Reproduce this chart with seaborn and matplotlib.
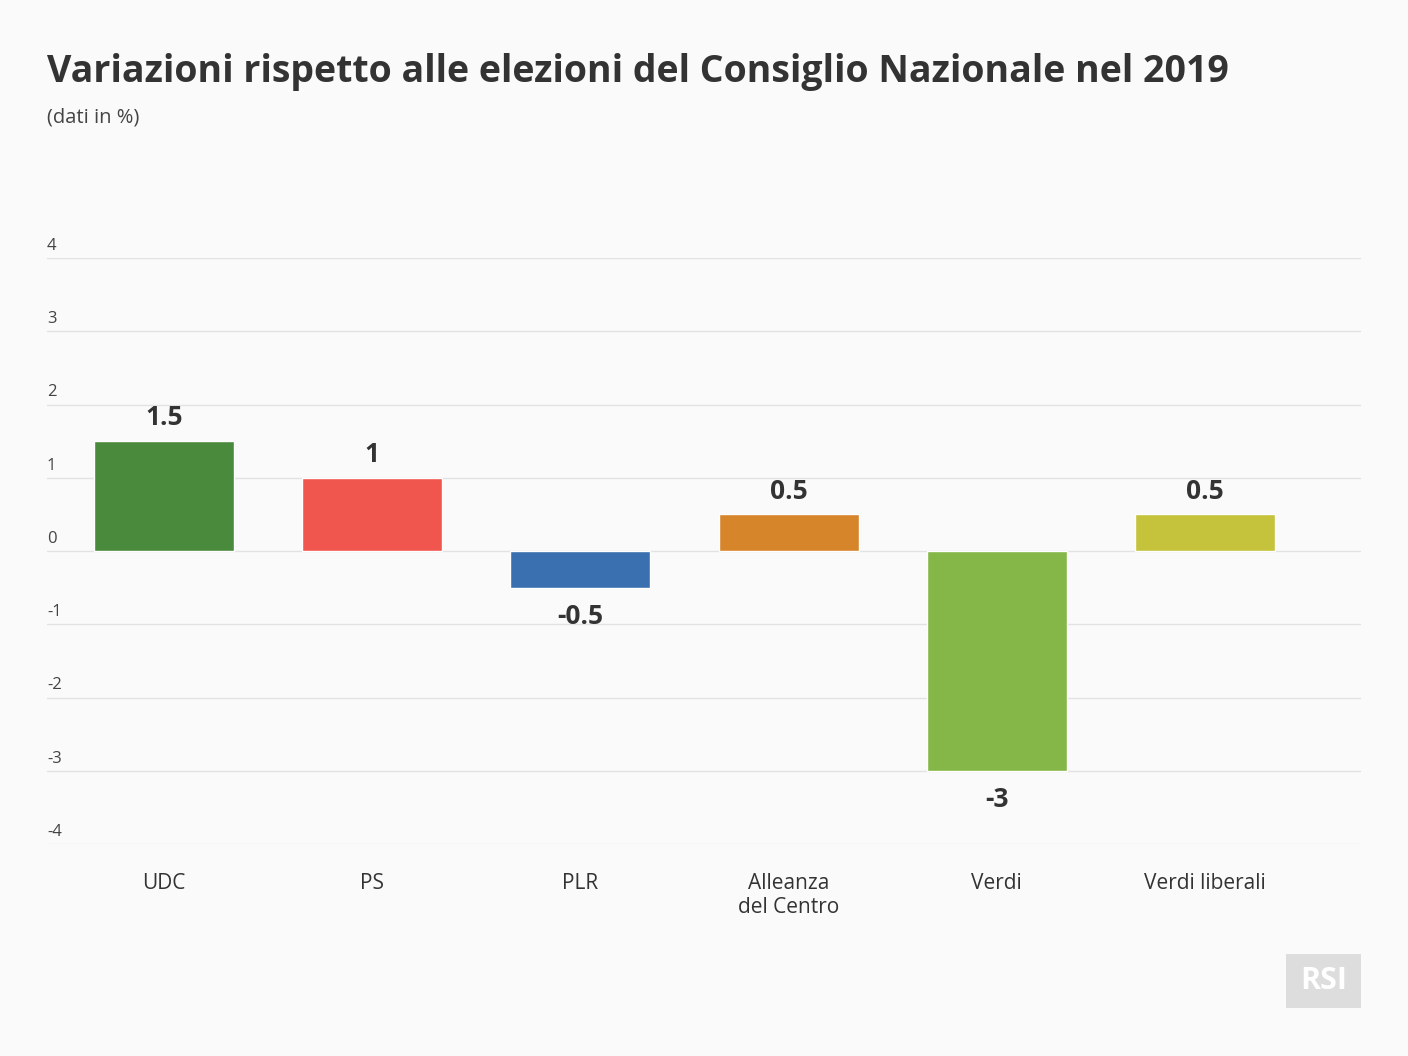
import matplotlib
matplotlib.use("Agg")
import matplotlib.pyplot as plt
import matplotlib.transforms as mtransforms
import seaborn as sns
import pandas as pd

parties = ["UDC", "PS", "PLR", "Alleanza\ndel Centro", "Verdi", "Verdi liberali"]
changes = [1.5, 1, -0.5, 0.5, -3, 0.5]
labels = ["1.5", "1", "-0.5", "0.5", "-3", "0.5"]
colors = ["#4a8a3c", "#f0564e", "#3a6fb0", "#d6852b", "#84b747", "#c5c33b"]
yticks = [4, 3, 2, 1, 0, -1, -2, -3, -4]

sns.set_theme(style="white")
plt.rcParams["font.family"] = ["Open Sans", "DejaVu Sans"]

bg = "#fafafa"
txt = "#333333"

fig = plt.figure(figsize=(14.08, 10.56), dpi=100, facecolor=bg)
ax = fig.add_axes([47 / 1408, 1 - 844 / 1056, 1314 / 1408, 586 / 1056])
ax.set_facecolor(bg)

df = pd.DataFrame({"party": parties, "change": changes})
sns.barplot(data=df, x="party", y="change", hue="party", palette=colors,
            legend=False, width=0.672, saturation=1, ax=ax, zorder=3)

ax.set_ylim(-4, 4)
ax.set_xlim(-0.562, 5.749)
ax.set_yticks(yticks)
ax.yaxis.grid(True, color="#e2e2e2", linewidth=1, zorder=0)
ax.tick_params(axis="y", left=False, labelleft=False)
ax.tick_params(axis="x", bottom=False, pad=15, labelsize=15, labelcolor=txt)
for s in ax.spines.values():
    s.set_visible(False)
ax.set_xlabel("")
ax.set_ylabel("")

# y labels sit above their gridlines
trans = mtransforms.blended_transform_factory(ax.transAxes, ax.transData)
for v in yticks:
    ax.annotate(f"{v}", xy=(0, v), xycoords=trans, xytext=(0, 3),
                textcoords="offset points", ha="left", va="bottom",
                fontsize=12, color="#444444")

# value labels
for i, (v, lab) in enumerate(zip(changes, labels)):
    off = 7 if v >= 0 else -11
    ax.annotate(lab, xy=(i, v), xytext=(0, off), textcoords="offset points",
                ha="center", va="bottom" if v >= 0 else "top",
                fontsize=19, fontweight="bold", color=txt)

fig.text(47 / 1408, 1 - 72 / 1056, "Variazioni rispetto alle elezioni del Consiglio Nazionale nel 2019",
         fontsize=27, fontweight="bold", color=txt, va="center", ha="left")
fig.text(47 / 1408, 1 - 118 / 1056, "(dati in %)", fontsize=14.5, color="#444444",
         va="center", ha="left")

# RSI logo
logo = fig.add_axes([1286 / 1408, 1 - 1008 / 1056, 75 / 1408, 54 / 1056])
logo.set_facecolor("#dddddd")
logo.set_xticks([])
logo.set_yticks([])
for s in logo.spines.values():
    s.set_visible(False)
logo.text(0.5, 0.5, "RSI", color="white", fontsize=22, fontweight="bold",
          ha="center", va="center", transform=logo.transAxes)

fig.savefig("out.png", dpi=100, facecolor=bg)
